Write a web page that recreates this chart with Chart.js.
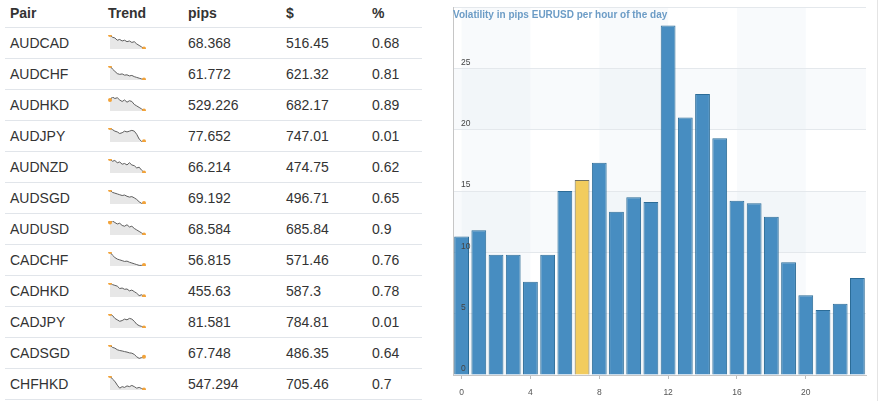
<!DOCTYPE html>
<html><head><meta charset="utf-8">
<script src="https://cdn.jsdelivr.net/npm/chart.js@4.4.0/dist/chart.umd.min.js"></script>
<style>
html,body{margin:0;padding:0;background:#fff;width:881px;height:401px;overflow:hidden;font-family:"Liberation Sans",Arial,sans-serif;}
#table{position:absolute;left:0;top:0;width:430px;height:401px;color:#333;font-size:14px;}
.row{position:absolute;left:5px;width:417px;border-bottom:1px solid #e1e5ea;}
.cell{position:absolute;top:0;white-space:nowrap;}
.hdr .cell{font-weight:bold;}
#panel{position:absolute;left:440px;top:0;width:437px;height:401px;}
#rborder{position:absolute;left:877px;top:0;width:1px;height:401px;background:#e4e4e4;}
#title{position:absolute;left:453px;top:8px;font:bold 10px "Liberation Sans",Arial,sans-serif;color:#6c9cc6;line-height:14px;}
</style>
</head><body>
<div id="table"></div>
<div id="panel"><canvas id="bars"></canvas></div>
<div id="rborder"></div>
<div id="title">Volatility in pips EURUSD per hour of the day</div>
<script>
// ---- table data ----
const headers = ['Pair','Trend','pips','$','%'];
const pairs = ['AUDCAD','AUDCHF','AUDHKD','AUDJPY','AUDNZD','AUDSGD','AUDUSD','CADCHF','CADHKD','CADJPY','CADSGD','CHFHKD'];
const pips = ['68.368','61.772','529.226','77.652','66.214','69.192','68.584','56.815','455.63','81.581','67.748','547.294'];
const dollars = ['516.45','621.32','682.17','747.01','474.75','496.71','685.84','571.46','587.3','784.81','486.35','705.46'];
const percents = ['0.68','0.81','0.89','0.01','0.62','0.65','0.9','0.76','0.78','0.01','0.64','0.7'];
const trendAUDCAD = [10,8.5,8,6.5,7,6,6.5,5.5,6,5,5.5,4,3,2,1];
const trendAUDCHF = [10,8,6.5,5,4.5,4.8,4,4.2,3.5,3.8,3,2.5,2,1.5,1.2];
const trendAUDHKD = [8,10,9,9.5,8,7,8,6.5,7.5,7,5,4,3,2,1];
const trendAUDJPY = [10,9,8,7.5,6.5,7,8,7.5,8,8.5,8,6,3,1.5,1.5];
const trendAUDNZD = [10,8.5,9,7.5,8,6.5,7,6,7.5,6,5.5,4,4.5,2.5,1];
const trendAUDSGD = [10,8.5,8,7.5,7,6.5,6.8,6,5.5,5.8,5,4,2.5,1.5,1.8];
const trendAUDUSD = [9,10,9,8,8.5,7,6.5,7.5,6,6.5,5,4,3,2,1];
const trendCADCHF = [10,8,6.5,5.5,5,4.5,4,4.2,3.5,3,2.5,2,1.5,1.5,1.7];
const trendCADHKD = [10,9,8.5,8,6.5,6.8,6,6.2,5,5.5,4.5,3.5,2,2.5,1.5];
const trendCADJPY = [10,9,7,6,5,5.5,6.5,6,7,6.5,5,3,2,1.5,0.8];
const trendCADSGD = [10,8.5,8,7,6.5,6.2,5.8,5.5,5,4.8,4,2.5,1.5,2,2.5];
const trendCHFHKD = [10,8,6.5,4,2,3,2.5,3.5,3,3.8,3,2,2.5,1.8,1.2];
const trends = [trendAUDCAD,trendAUDCHF,trendAUDHKD,trendAUDJPY,trendAUDNZD,trendAUDSGD,trendAUDUSD,trendCADCHF,trendCADHKD,trendCADJPY,trendCADSGD,trendCHFHKD];

// ---- bar chart data ----
const hourLabels = ['0','1','2','3','4','5','6','7','8','9','10','11','12','13','14','15','16','17','18','19','20','21','22','23'];
const volatility = [11.3,11.8,9.8,9.8,7.6,9.8,15.0,15.9,17.3,13.3,14.5,14.1,28.5,21.0,22.9,19.3,14.2,14.0,12.9,9.2,6.5,5.3,5.8,7.9];
const currentHour = 7;
const yTicks = [0,5,10,15,20,25];
const xTickLabels = ['0','4','8','12','16','20'];

// ---- build table ----
const colX = [5,103,183,281,367];
const tbl = document.getElementById('table');
function addRow(top, height, cls){
  const r = document.createElement('div');
  r.className = 'row ' + (cls||'');
  r.style.top = top + 'px';
  r.style.height = height + 'px';
  tbl.appendChild(r);
  return r;
}
function addCell(row, i, text, lh){
  const c = document.createElement('div');
  c.className = 'cell';
  c.style.left = colX[i] + 'px';
  c.style.lineHeight = lh + 'px';
  c.textContent = text;
  row.appendChild(c);
}
const hdr = addRow(0, 27, 'hdr');
headers.forEach((h,i)=>addCell(hdr,i,h,26));
Chart.defaults.animation = false;
pairs.forEach((p, k) => {
  const top = 28 + 31*k;
  const r = addRow(top, 30);
  addCell(r,0,p,30);
  addCell(r,2,pips[k],30);
  addCell(r,3,dollars[k],30);
  addCell(r,4,percents[k],30);
  const cv = document.createElement('canvas');
  cv.width = 42; cv.height = 22;
  cv.style.position = 'absolute';
  cv.style.left = (colX[1] - 2) + 'px';
  cv.style.top = '3px';
  r.appendChild(cv);
  const d = trends[k];
  const n = d.length;
  new Chart(cv, {
    type:'line',
    data:{labels:d.map((_,i)=>i), datasets:[{
      data:d, borderColor:'#5e5e5e', borderWidth:1, tension:0,
      fill:'start', backgroundColor:'#e7e7e7',
      pointRadius: ctx => (ctx.dataIndex===0 || ctx.dataIndex===n-1) ? 2 : 0,
      pointBackgroundColor:'#f2a33a', pointBorderColor:'#f2a33a', pointBorderWidth:0
    }]},
    options:{
      responsive:false, animation:false, events:[],
      layout:{padding:2},
      plugins:{legend:{display:false}, tooltip:{enabled:false}},
      scales:{x:{display:false}, y:{display:false, min:Math.min(...d)-0.4, max:Math.max(...d)}}
    }
  });
});

// ---- bar chart ----
const bandPlugin = {
  id:'bands',
  beforeDraw(chart){
    const {ctx, chartArea:a, scales:{x,y}} = chart;
    ctx.save();
    ctx.fillStyle = 'rgba(205,222,238,0.15)';
    [[0,4],[8,12],[16,20]].forEach(([s,e])=>{
      const x0 = x.getPixelForValue(s), x1 = x.getPixelForValue(e);
      ctx.fillRect(x0, a.top, x1-x0, a.bottom-a.top);
    });
    [[0,5],[10,15],[20,25]].forEach(([s,e])=>{
      const y0 = y.getPixelForValue(e), y1 = y.getPixelForValue(s);
      ctx.fillRect(a.left, y0, a.right-a.left, y1-y0);
    });
    ctx.restore();
  }
};
new Chart(document.getElementById('bars'), {
  type:'bar',
  data:{labels:hourLabels, datasets:[{
    data:volatility,
    backgroundColor: volatility.map((_,i)=> i===currentHour ? '#f2cc5e' : '#478dc1'),
    borderColor: volatility.map((_,i)=> i===currentHour ? '#6e6f63' : '#2c6c97'),
    borderWidth:1,
    barPercentage:0.86, categoryPercentage:1
  }]},
  options:{
    responsive:true, maintainAspectRatio:false, animation:false, events:[],
    layout:{padding:{left:13,right:11,top:7,bottom:0}},
    plugins:{legend:{display:false}, tooltip:{enabled:false}},
    scales:{
      x:{
        grid:{offset:false, drawOnChartArea:false, tickLength:4,
          tickColor: ctx => xTickLabels.includes(hourLabels[ctx.index]) ? '#bdbdbd' : 'rgba(0,0,0,0)'},
        border:{color:'#c6c6c6'},
        ticks:{autoSkip:false, maxRotation:0, padding:9, color:'#555',
          font:{size:8.5, family:'Liberation Sans'},
          callback:(v,i)=> xTickLabels.includes(hourLabels[i]) ? hourLabels[i] : ''},
        afterFit: s => { s.height = 26; s.paddingLeft = 0; s.paddingRight = 0; }
      },
      y:{
        min:0, max:30,
        afterBuildTicks: s => { s.ticks = yTicks.concat([30]).map(v=>({value:v})); },
        grid:{color:'#e4e8ec', drawTicks:false},
        border:{color:'#c6c6c6'},
        ticks:{mirror:true, padding:8, labelOffset:-6, color:'#444', z:1,
          font:{size:8.5, family:'Liberation Sans'},
          callback: v => yTicks.includes(v) ? String(v) : ''},
        afterFit: s => { s.width = 0; s.paddingTop = 0; s.paddingBottom = 0; }
      }
    }
  },
  plugins:[bandPlugin]
});
</script>
</body></html>
